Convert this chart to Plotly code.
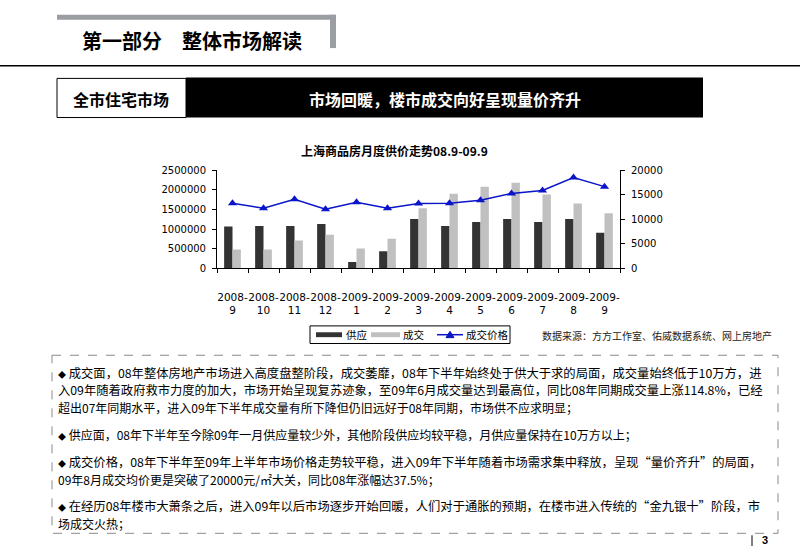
import plotly.graph_objects as go

# ---------------- data ----------------
months = ["2008-9", "2008-10", "2008-11", "2008-12", "2009-1", "2009-2", "2009-3",
          "2009-4", "2009-5", "2009-6", "2009-7", "2009-8", "2009-9"]
month_labels = ["2008-<br>9", "2008-<br>10", "2008-<br>11", "2008-<br>12", "2009-<br>1",
                "2009-<br>2", "2009-<br>3", "2009-<br>4", "2009-<br>5", "2009-<br>6",
                "2009-<br>7", "2009-<br>8", "2009-<br>9"]
supply = [1065000, 1080000, 1080000, 1130000, 160000, 430000, 1255000,
          1080000, 1180000, 1255000, 1180000, 1255000, 905000]
deal = [480000, 480000, 705000, 855000, 505000, 755000, 1530000,
        1905000, 2080000, 2180000, 1880000, 1655000, 1405000]
price = [13270, 12270, 14070, 12070, 13470, 12270, 13200,
         13270, 13870, 15270, 15870, 18530, 16670]

series_names = ["供应", "成交", "成交价格"]
chart_title = "上海商品房月度供价走势08.9-09.9"
source_text = "数据来源：方方工作室、佑威数据系统、网上房地产"
page_title = "第一部分　整体市场解读"
box_label = "全市住宅市场"
headline = "市场回暖，楼市成交向好呈现量价齐升"
body_lines = [
    ("◆ 成交面，08年整体房地产市场进入高度盘整阶段，成交萎靡，08年下半年始终处于供大于求的局面，成交量始终低于10万方，进", True),
    ("入09年随着政府救市力度的加大，市场开始呈现复苏迹象，至09年6月成交量达到最高位，同比08年同期成交量上涨114.8%，已经", True),
    ("超出07年同期水平，进入09年下半年成交量有所下降但仍旧远好于08年同期，市场供不应求明显；", False),
    ("◆ 供应面，08年下半年至今除09年一月供应量较少外，其他阶段供应均较平稳，月供应量保持在10万方以上；", False),
    ("◆ 成交价格，08年下半年至09年上半年市场价格走势较平稳，进入09年下半年随着市场需求集中释放，呈现“量价齐升”的局面，", True),
    ("09年8月成交均价更是突破了20000元/㎡大关，同比08年涨幅达37.5%；", False),
    ("◆ 在经历08年楼市大萧条之后，进入09年以后市场逐步开始回暖，人们对于通胀的预期，在楼市进入传统的“金九银十”阶段，市", True),
    ("场成交火热；", False),
]
body_y = [375, 392.5, 410, 438, 466, 483.5, 511.5, 529]

W, H = 800, 553
CJK = "Noto Sans CJK SC"
NUM = "DejaVu Sans"


def X(px):
    return px / W


def Y(py):
    return 1 - py / H


fig = go.Figure()
fig.add_trace(go.Bar(x=months, y=supply, name=series_names[0], marker_color="#333333",
                     marker_line_width=0))
fig.add_trace(go.Bar(x=months, y=deal, name=series_names[1], marker_color="#c0c0c0",
                     marker_line_width=0))
fig.add_trace(go.Scatter(x=months, y=price, name=series_names[2], yaxis="y2",
                         mode="lines+markers",
                         line=dict(color="#0a14c8", width=1.5),
                         marker=dict(symbol="triangle-up", size=8, color="#0a14c8")))

shapes = []
annotations = []

# header gray L
shapes.append(dict(type="rect", xref="paper", yref="paper", x0=X(57), x1=X(336), y0=Y(9), y1=Y(14),
                   fillcolor="#9a9ea2", line_width=0, layer="below"))
shapes.append(dict(type="rect", xref="paper", yref="paper", x0=X(330), x1=X(336), y0=Y(9), y1=Y(43),
                   fillcolor="#9a9ea2", line_width=0, layer="below"))
annotations.append(dict(xref="paper", yref="paper", x=X(80), y=Y(35), xanchor="left", yanchor="middle",
                        text="<b>" + page_title + "</b>", showarrow=False,
                        font=dict(family=CJK, size=20, color="#000000")))
# black line
shapes.append(dict(type="line", xref="paper", yref="paper", x0=0, x1=1, y0=Y(61), y1=Y(61),
                   line=dict(color="#000000", width=1.5)))

# label boxes
shapes.append(dict(type="rect", xref="paper", yref="paper", x0=X(57), x1=X(186), y0=Y(74), y1=Y(114),
                   fillcolor="#ffffff", line=dict(color="#000000", width=1)))
shapes.append(dict(type="rect", xref="paper", yref="paper", x0=X(186), x1=X(703), y0=Y(73), y1=Y(114),
                   fillcolor="#000000", line_width=0))
annotations.append(dict(xref="paper", yref="paper", x=X(121), y=Y(95), xanchor="center", yanchor="middle",
                        text="<b>" + box_label + "</b>", showarrow=False,
                        font=dict(family=CJK, size=16, color="#000000")))
annotations.append(dict(xref="paper", yref="paper", x=X(445), y=Y(95), xanchor="center", yanchor="middle",
                        text="<b>" + headline + "</b>", showarrow=False,
                        font=dict(family=CJK, size=16, color="#ffffff")))

# chart title
annotations.append(dict(xref="paper", yref="paper", x=X(394), y=Y(148), xanchor="center", yanchor="middle",
                        text="<b>" + chart_title + "</b>", showarrow=False,
                        font=dict(family=CJK, size=12, color="#000000")))

# custom legend
LY = 336
shapes.append(dict(type="rect", xref="paper", yref="paper", x0=X(310), x1=X(510), y0=Y(327), y1=Y(345),
                   fillcolor="#ffffff", line=dict(color="#000000", width=1)))
shapes.append(dict(type="rect", xref="paper", yref="paper", x0=X(316), x1=X(342), y0=Y(LY - 2.5), y1=Y(LY + 2.5),
                   fillcolor="#333333", line_width=0))
shapes.append(dict(type="rect", xref="paper", yref="paper", x0=X(371), x1=X(400), y0=Y(LY - 2.5), y1=Y(LY + 2.5),
                   fillcolor="#c0c0c0", line_width=0))
shapes.append(dict(type="line", xref="paper", yref="paper", x0=X(437), x1=X(463), y0=Y(LY), y1=Y(LY),
                   line=dict(color="#0a14c8", width=1.5)))
tri = "M {:.5f} {:.5f} L {:.5f} {:.5f} L {:.5f} {:.5f} Z".format(
    X(450), Y(LY - 3.5), X(446), Y(LY + 3), X(454), Y(LY + 3))
shapes.append(dict(type="path", xref="paper", yref="paper", path=tri, fillcolor="#0a14c8",
                   line=dict(color="#0a14c8", width=1)))
for xx, t in [(345, series_names[0]), (402, series_names[1]), (465, series_names[2])]:
    annotations.append(dict(xref="paper", yref="paper", x=X(xx), y=Y(LY), xanchor="left", yanchor="middle",
                            text=t, showarrow=False, borderpad=0,
                            font=dict(family=CJK, size=10.5, color="#000000")))

# source
annotations.append(dict(xref="paper", yref="paper", x=X(540), y=Y(337), xanchor="left", yanchor="middle",
                        text=source_text, showarrow=False, font=dict(family=CJK, size=10, color="#222222")))

# dashed text box
shapes.append(dict(type="rect", xref="paper", yref="paper", x0=X(52), x1=X(778), y0=Y(357), y1=Y(539),
                   fillcolor="rgba(0,0,0,0)", line=dict(color="#8a8a8a", width=1, dash="dash")))
for (txt, just), yy in zip(body_lines, body_y):
    t = txt.replace("◆ ", "<span style='font-size:8px'>◆</span> ")
    annotations.append(dict(xref="paper", yref="paper", x=X(57), y=Y(yy), xanchor="left", yanchor="middle",
                            text=t, showarrow=False, borderpad=0,
                            font=dict(family=CJK, size=12.3 if just else 12, color="#000000")))

# page number
shapes.append(dict(type="line", xref="paper", yref="paper", x0=X(752), x1=X(752), y0=Y(541), y1=Y(552),
                   line=dict(color="#000000", width=1)))
annotations.append(dict(xref="paper", yref="paper", x=X(760), y=Y(546), xanchor="left", yanchor="middle",
                        text="<b>3</b>", showarrow=False, font=dict(family="Liberation Sans", size=11, color="#000000")))

axis_font = dict(family=NUM, size=10, color="#000000")
fig.update_layout(
    width=W, height=H,
    margin=dict(l=0, r=0, t=0, b=0),
    paper_bgcolor="#ffffff", plot_bgcolor="#ffffff",
    showlegend=False,
    barmode="group", bargap=0.46, bargroupgap=0,
    shapes=shapes, annotations=annotations,
    xaxis=dict(domain=[X(217), X(620)], type="category", tickmode="array",
               tickvals=months, ticktext=month_labels, tickangle=0,
               range=[-0.5, len(months) - 0.5],
               showline=True, linecolor="#000000", linewidth=1,
               ticks="outside", tickson="boundaries", ticklen=4, tickcolor="#000000",
               tickfont=dict(family=NUM, size=10.5, color="#000000"),
               ticklabelstandoff=19, showgrid=False),
    yaxis=dict(domain=[Y(268), Y(168)], range=[0, 2500000], dtick=500000, tickformat="d",
               showline=True, linecolor="#000000", linewidth=1,
               ticks="outside", ticklen=4, tickcolor="#000000", tickfont=axis_font,
               showgrid=False, zeroline=False, ticklabelstandoff=4),
    yaxis2=dict(overlaying="y", side="right", anchor="x", range=[0, 20000], dtick=5000, tickformat="d",
                showline=True, linecolor="#000000", linewidth=1,
                ticks="outside", ticklen=4, tickcolor="#000000", tickfont=axis_font,
                showgrid=False, zeroline=False, ticklabelstandoff=4),
)

fig.write_html("out.html")
